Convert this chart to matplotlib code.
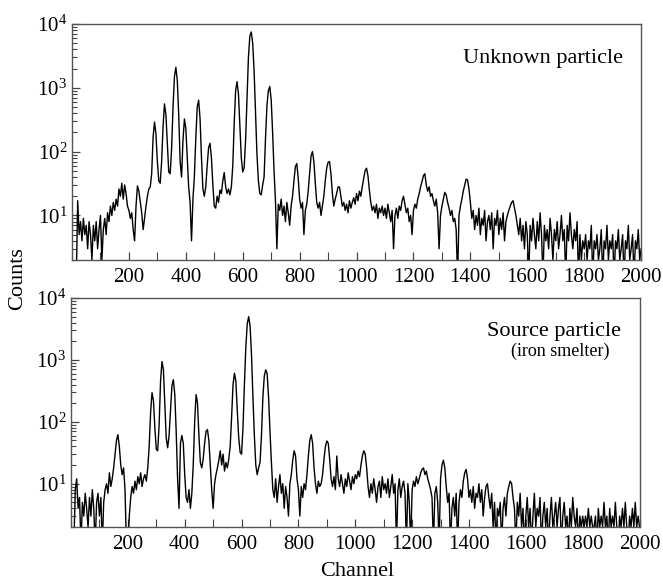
import numpy as np
import matplotlib
matplotlib.use("Agg")
import matplotlib.pyplot as plt
from matplotlib.ticker import LogLocator, LogFormatterMathtext, MultipleLocator, NullFormatter

plt.rcParams['font.family'] = ['Liberation Serif', 'DejaVu Serif']
plt.rcParams['mathtext.fontset'] = 'custom'
plt.rcParams['mathtext.rm'] = 'Liberation Serif'
plt.rcParams['mathtext.it'] = 'Liberation Serif:italic'

# channel grid (every 5 channels)
channels = np.arange(5, 2001, 5)

# Unknown particle - counts, 20 values per 100 channels
unknown_counts = [
    1, 1, 1, 17, 5, 8, 4, 9, 5, 7, 3, 8, 5, 2, 7, 4, 8, 3, 6, 10,
    2, 6, 9, 5, 11, 8, 14, 10, 16, 12, 18, 14, 26, 20, 32, 18, 30, 22, 14, 12,
    9, 11, 6, 4, 14, 29, 24, 16, 11, 6, 9, 14, 20, 26, 28, 45, 170, 290, 190, 70,
    35, 32, 70, 250, 560, 380, 130, 48, 45, 110, 500, 1500, 2100, 1300, 380, 70, 40, 150, 325, 230,
    80, 28, 16, 4, 18, 40, 160, 500, 640, 330, 80, 26, 20, 28, 60, 115, 135, 80, 30, 14,
    13, 20, 16, 25, 22, 35, 47, 28, 22, 26, 21, 28, 60, 280, 900, 1250, 800, 260, 80, 48,
    56, 150, 700, 3000, 6500, 7500, 5000, 1800, 400, 90, 35, 22, 21, 30, 40, 160, 520, 900, 1050, 650,
    200, 50, 17, 3, 15, 12, 18, 10, 14, 8, 16, 11, 7, 14, 20, 35, 58, 65, 38, 18,
    13, 16, 5, 12, 15, 24, 45, 85, 100, 70, 32, 16, 13, 16, 10, 14, 20, 35, 55, 68,
    70, 45, 22, 14, 18, 22, 28, 28, 20, 14, 16, 12, 15, 11, 17, 13, 16, 19, 15, 22,
    17, 24, 20, 28, 38, 50, 55, 42, 25, 16, 12, 14, 11, 15, 9, 13, 11, 14, 10, 13,
    9, 15, 11, 8, 12, 3, 10, 13, 9, 14, 12, 17, 20, 15, 11, 13, 8, 10, 5, 12,
    15, 13, 18, 22, 28, 34, 42, 45, 30, 24, 28, 20, 22, 17, 14, 18, 11, 3, 10, 14,
    18, 23, 21, 16, 13, 10, 12, 8, 9, 6, 1, 10, 14, 18, 24, 30, 37, 36, 26, 16,
    9, 12, 6, 10, 7, 13, 5, 9, 7, 12, 4, 8, 10, 6, 11, 3, 9, 7, 12, 5,
    9, 6, 11, 4, 8, 10, 12, 14, 16, 17, 13, 10, 7, 5, 9, 4, 7, 3, 8, 5,
    1, 7, 4, 9, 5, 3, 8, 4, 11, 5, 1, 7, 4, 6, 3, 9, 5, 2, 6, 4,
    8, 3, 5, 10, 4, 6, 1, 7, 4, 11, 5, 3, 6, 4, 8, 1, 5, 2, 4, 3,
    5, 2, 4, 3, 7, 1, 4, 3, 5, 2, 3, 6, 1, 4, 3, 7, 2, 4, 3, 5,
    1, 4, 3, 6, 2, 3, 5, 1, 4, 3, 7, 2, 3, 5, 1, 4, 3, 6, 2, 3,
]

# Source particle (iron smelter)
source_counts = [
    1, 1, 8, 12, 4, 6, 1, 5, 3, 7, 4, 2, 6, 3, 8, 4, 1, 5, 7, 3,
    6, 1, 5, 8, 10, 7, 15, 9, 12, 18, 30, 50, 62, 40, 20, 14, 18, 8, 1, 1,
    3, 6, 9, 7, 11, 8, 13, 10, 15, 9, 12, 14, 11, 18, 40, 140, 295, 220, 80, 36,
    34, 90, 450, 940, 700, 200, 55, 38, 60, 150, 380, 480, 280, 70, 12, 4, 45, 60, 45, 14,
    6, 5, 8, 4, 7, 20, 100, 275, 200, 60, 22, 18, 25, 45, 70, 75, 50, 20, 8, 4,
    10, 14, 18, 24, 34, 20, 30, 16, 22, 18, 25, 40, 120, 400, 610, 450, 150, 55, 32, 30,
    80, 400, 1600, 3800, 5000, 3500, 1200, 250, 60, 20, 14, 18, 22, 60, 250, 550, 690, 600, 250, 70,
    22, 8, 6, 12, 5, 9, 14, 7, 10, 4, 9, 6, 3, 10, 14, 24, 34, 28, 12, 8,
    3, 9, 6, 10, 8, 14, 28, 50, 62, 45, 18, 10, 7, 11, 9, 10, 14, 25, 40, 49,
    45, 25, 12, 9, 13, 8, 28, 12, 9, 14, 10, 7, 12, 9, 15, 11, 8, 13, 10, 14,
    12, 16, 13, 20, 28, 34, 30, 18, 9, 6, 10, 7, 12, 8, 5, 9, 11, 6, 13, 8,
    10, 7, 12, 6, 9, 14, 7, 10, 1, 8, 12, 6, 9, 11, 7, 1, 10, 5, 1, 8,
    11, 9, 13, 10, 12, 15, 17, 18, 14, 16, 12, 10, 8, 6, 1, 7, 9, 5, 1, 12,
    20, 24, 18, 9, 5, 7, 1, 4, 6, 3, 7, 1, 5, 8, 6, 11, 15, 17, 12, 6,
    8, 5, 9, 4, 7, 6, 10, 5, 8, 3, 6, 9, 10, 6, 4, 7, 2, 5, 1, 4,
    3, 5, 1, 4, 6, 3, 7, 9, 11, 10, 6, 4, 1, 5, 3, 7, 2, 4, 1, 3,
    6, 2, 4, 1, 3, 7, 2, 4, 3, 6, 1, 3, 5, 2, 4, 1, 3, 6, 2, 3,
    5, 2, 4, 6, 1, 3, 5, 2, 3, 1, 4, 2, 6, 3, 2, 4, 1, 3, 2, 3,
    2, 3, 2, 4, 2, 3, 2, 2, 3, 1, 4, 2, 3, 2, 5, 2, 3, 1, 4, 2,
    3, 2, 5, 2, 1, 3, 2, 4, 2, 5, 2, 1, 3, 2, 4, 2, 5, 2, 3, 2,
]

panels = [
    (unknown_counts, [0.1086, 0.554, 0.8584, 0.4048], ["Unknown particle"]),
    (source_counts, [0.1071, 0.0961, 0.8575, 0.3928], ["Source particle", "(iron smelter)"]),
]

fig = plt.figure(figsize=(6.63, 5.83), dpi=100)

for counts, rect, labels in panels:
    ax = fig.add_axes(rect)
    ax.plot(channels, counts, color='black', linewidth=1.0)
    ax.set_yscale('log')
    ax.set_xlim(0, 2000)
    ax.set_ylim(2, 1e4)
    ax.xaxis.set_minor_locator(MultipleLocator(100))
    ax.set_xticks(np.arange(200, 2001, 200))
    ax.yaxis.set_major_locator(LogLocator(base=10, numticks=10))
    ax.yaxis.set_major_formatter(LogFormatterMathtext())
    ax.yaxis.set_minor_locator(LogLocator(base=10, subs=np.arange(2, 10), numticks=10))
    ax.yaxis.set_minor_formatter(NullFormatter())
    ax.tick_params(axis='both', which='major', direction='in', length=6, width=0.9,
                   labelsize=15, colors='#444444', labelcolor='black')
    ax.tick_params(axis='both', which='minor', direction='in', length=3.5, width=0.8,
                   colors='#444444')
    ax.tick_params(axis='x', which='minor', length=6)
    ax.tick_params(axis='x', which='major', pad=6)
    for s in ax.spines.values():
        s.set_color('#555555')
        s.set_linewidth(1.0)

    ax.text(0.968, 0.835, labels[0], transform=ax.transAxes, ha='right',
            va='baseline', fontsize=16)
    if len(labels) > 1:
        ax.text(0.948, 0.745, labels[1], transform=ax.transAxes, ha='right',
                va='baseline', fontsize=13)

fig.text(0.026, 0.522, 'Counts', rotation=90, ha='center', va='center', fontsize=16)
fig.text(0.538, 0.019, 'Channel', ha='center', va='center', fontsize=16)

fig.savefig('out.png', dpi=100)
